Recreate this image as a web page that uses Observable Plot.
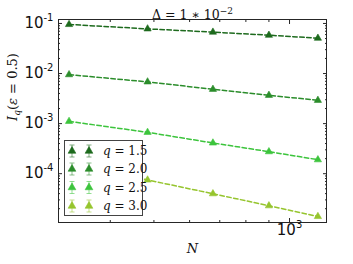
<!DOCTYPE html>
<html><head><meta charset="utf-8">
<script src="https://cdn.jsdelivr.net/npm/d3@7"></script>
<script src="https://cdn.jsdelivr.net/npm/@observablehq/plot@0.6"></script>
<style>
body{margin:0;background:#fff}
#wrap{position:relative;width:353px;height:264px}
#wrap svg{position:absolute;left:0;top:0}
</style>
</head><body><div id="wrap"></div>
<script>
// ---- data ----
const N   = [324, 484, 676, 900, 1156];
const q15 = [0.0955, 0.078, 0.0672, 0.0583, 0.0508];
const q20 = [0.0095, 0.00682, 0.00485, 0.00368, 0.00292];
const q25 = [0.00111, 0.00067, 0.000411, 0.000275, 0.00019];
const q30 = [0.000155, 0.000075, 0.0000398, 0.0000229, 0.000014];
const qLabels = ["1.5", "2.0", "2.5", "3.0"];
const colors  = ["#1d6a1d", "#2b8d2b", "#3cc43c", "#96c52e"];
const xMajor = [1000];
const xMinor = [400, 500, 600, 700, 800, 900];
const yMajor = [1e-1, 1e-2, 1e-3, 1e-4];
const yMinor = [];
for (const e of [-5, -4, -3, -2]) for (let k = 2; k <= 9; k++) yMinor.push(k * Math.pow(10, e));
const titleText = "Δ = 1 ∗ 10^{−2}";
const yLabelText = "Iq(ε = 0.5)";

const series = [q15, q20, q25, q30];
const data = qLabels.flatMap((q, i) => N.map((n, j) => ({q, N: n, I: series[i][j]})));

const ink = "#262626";
const blank = () => "";
const supFmt = d => `10^{${Math.round(Math.log10(d))}}`;
const serif = "DejaVu Serif, serif";

const plot = Plot.plot({
  width: 353, height: 264,
  marginLeft: 58, marginRight: 27, marginTop: 19, marginBottom: 42,
  style: {background: "transparent", fontFamily: "DejaVu Sans, sans-serif", fontSize: "13px", color: ink},
  x: {type: "log", domain: [307, 1208]},
  y: {type: "log", domain: [1.06e-5, 0.12]},
  color: {domain: qLabels, range: colors},
  marks: [
    Plot.line(data, {x: "N", y: "I", z: "q", stroke: "q", strokeWidth: 1.5, strokeDasharray: "4.5,2.5"}),
    Plot.dot(data, {x: "N", y: "I", fill: "q", stroke: "q", symbol: "triangle", r: 2.7, strokeWidth: 0.6}),
    Plot.frame({stroke: ink}),
    // inward ticks on all four sides
    Plot.axisX({anchor: "bottom", ticks: xMajor, tickSize: 4, dy: -4, tickFormat: blank, label: null, stroke: ink}),
    Plot.axisX({anchor: "bottom", ticks: xMinor, tickSize: 2, dy: -2, tickFormat: blank, label: null, stroke: ink}),
    Plot.axisX({anchor: "top", ticks: xMajor, tickSize: 4, dy: 4, tickFormat: blank, label: null, stroke: ink}),
    Plot.axisX({anchor: "top", ticks: xMinor, tickSize: 2, dy: 2, tickFormat: blank, label: null, stroke: ink}),
    Plot.axisY({anchor: "left", ticks: yMajor, tickSize: 4, dx: 4, tickFormat: blank, label: null, stroke: ink}),
    Plot.axisY({anchor: "left", ticks: yMinor, tickSize: 2, dx: 2, tickFormat: blank, label: null, stroke: ink}),
    Plot.axisY({anchor: "right", ticks: yMajor, tickSize: 4, dx: -4, tickFormat: blank, label: null, stroke: ink}),
    Plot.axisY({anchor: "right", ticks: yMinor, tickSize: 2, dx: -2, tickFormat: blank, label: null, stroke: ink}),
    // tick labels
    Plot.axisX({anchor: "bottom", ticks: xMajor, tickSize: 0, tickPadding: 3, tickFormat: supFmt, label: null, fill: "#111"}),
    Plot.axisY({anchor: "left", ticks: yMajor, tickSize: 0, tickPadding: 5, tickFormat: supFmt, label: null, fill: "#111"}),
    // title and axis labels
    Plot.text([titleText], {text: d => d, frameAnchor: "top", dy: -9, fontFamily: serif, fontSize: 12.5, fill: "#111"}),
    Plot.text(["N"], {text: d => d, frameAnchor: "bottom", dy: 30, fontFamily: serif, fontStyle: "italic", fontSize: 13, fill: "#111"}),
    Plot.text([yLabelText], {text: d => d, frameAnchor: "left", dx: -46, rotate: -90, fontFamily: serif, fontSize: 13, fill: "#111"})
  ]
});

const ns = "http://www.w3.org/2000/svg";
function rich(el, s, base, sup) {
  el.textContent = "";
  const up = base * 0.45;
  let shift = 0;
  for (const p of s.split(/(\^\{[^}]*\})/).filter(Boolean)) {
    const t = document.createElementNS(ns, "tspan");
    const isSup = p.startsWith("^{");
    const fs = isSup ? sup : base;
    t.setAttribute("style", `font-size:${fs}px`);
    const target = isSup ? -up : 0;
    if (target !== shift) t.setAttribute("dy", target - shift);
    shift = target;
    t.textContent = isSup ? p.slice(2, -1) : p;
    el.appendChild(t);
  }
}
plot.querySelectorAll("text").forEach(el => {
  const s = el.textContent;
  if (s.startsWith("Δ")) rich(el, s, 12.5, 9);
  else if (s.includes("^{")) rich(el, s, 15, 10);
  else if (s === yLabelText) {
    el.textContent = "";
    const parts = [["I", "italic", null, 0], ["q", "italic", 9, 3], ["(", "normal", null, -3], ["ε", "italic", null, 0], [" = 0.5)", "normal", null, 0]];
    for (const [txt, st, fs, dy] of parts) {
      const t = document.createElementNS(ns, "tspan");
      t.setAttribute("font-style", st);
      if (fs) t.setAttribute("font-size", fs);
      if (dy) t.setAttribute("dy", dy);
      t.textContent = txt;
      el.appendChild(t);
    }
  }
});
document.getElementById("wrap").appendChild(plot);

// ---- legend overlay (inside the axes) ----
const leg = d3.select("#wrap").append("svg").attr("width", 353).attr("height", 264)
  .style("pointer-events", "none");
leg.append("rect").attr("x", 64.5).attr("y", 140.5).attr("width", 78).attr("height", 75)
  .attr("fill", "#fff").attr("stroke", "#444").attr("stroke-width", 1);
const rowsY = [151, 169, 187.5, 206];
const tri = d3.symbol(d3.symbolTriangle, 26)();
qLabels.forEach((q, i) => {
  const y = rowsY[i];
  for (const x of [72, 89]) {
    const g = leg.append("g").attr("transform", `translate(${x},${y})`);
    g.append("path").attr("d", "M0,-6V6M-2.5,-6H2.5M-2.5,6H2.5").attr("stroke", colors[i])
      .attr("stroke-opacity", 0.55).attr("fill", "none");
    g.append("path").attr("d", tri).attr("fill", colors[i]).attr("stroke", colors[i]).attr("stroke-width", 0.6);
  }
  const t = leg.append("text").attr("x", 103).attr("y", y).attr("dy", "0.35em")
    .attr("font-family", serif).attr("font-size", 12).attr("fill", "#111");
  t.append("tspan").attr("font-style", "italic").text("q");
  t.append("tspan").text(" = " + q);
});
</script>
</body></html>
